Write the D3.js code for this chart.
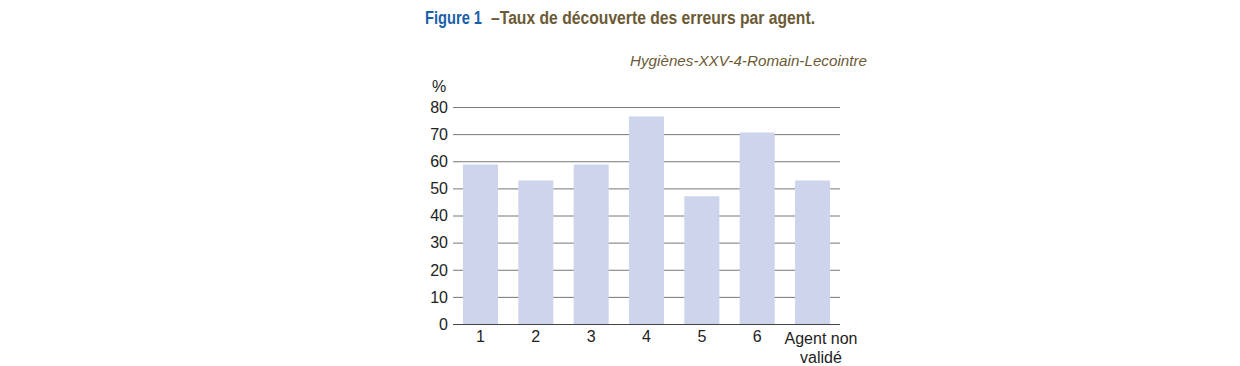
<!DOCTYPE html>
<html>
<head>
<meta charset="utf-8">
<script src="https://cdn.jsdelivr.net/npm/d3@7"></script>
<style>
  body { margin: 0; background: #fff; }
  svg { display: block; }
</style>
</head>
<body>
<div id="chart"></div>
<script>
// data
var categories = ["1", "2", "3", "4", "5", "6", "Agent non|validé"];
var values = [58.8, 52.9, 58.8, 76.5, 47.1, 70.6, 52.9];
var yTicks = [0, 10, 20, 30, 40, 50, 60, 70, 80];

var svgWidth = 1240;
var svgHeight = 366;

var svg = d3.select("#chart")
  .append("svg")
  .attr("width", svgWidth)
  .attr("height", svgHeight);

var x = d3.scaleBand()
  .domain(categories)
  .range([453, 840])
  .paddingInner(0.367)
  .paddingOuter(0.18);

var y = d3.scaleLinear()
  .domain([0, 80])
  .range([324, 107]);

// title, two pieces squeezed to look condensed
svg.append("text")
  .attr("x", 425)
  .attr("y", 23.5)
  .attr("font-family", "'Liberation Sans', Arial, sans-serif")
  .attr("font-weight", "bold")
  .attr("font-size", "18px")
  .attr("fill", "#1b5faa")
  .attr("textLength", 57)
  .attr("lengthAdjust", "spacingAndGlyphs")
  .text("Figure 1");

svg.append("text")
  .attr("x", 491)
  .attr("y", 23.5)
  .attr("font-family", "'Liberation Sans', Arial, sans-serif")
  .attr("font-weight", "bold")
  .attr("font-size", "18px")
  .attr("fill", "#6b5a35")
  .attr("textLength", 324)
  .attr("lengthAdjust", "spacingAndGlyphs")
  .text("–Taux de découverte des erreurs par agent.");

svg.append("text")
  .attr("x", 867)
  .attr("y", 66)
  .attr("text-anchor", "end")
  .attr("font-family", "'Liberation Sans', Arial, sans-serif")
  .attr("font-style", "italic")
  .attr("font-size", "15px")
  .attr("fill", "#6b5a35")
  .attr("textLength", 237)
  .attr("lengthAdjust", "spacingAndGlyphs")
  .text("Hygiènes-XXV-4-Romain-Lecointre");

// gridlines
svg.append("g").selectAll("line")
  .data(yTicks)
  .enter()
  .append("line")
  .attr("x1", 453)
  .attr("x2", 840)
  .attr("y1", d => y(d) + 0.5)
  .attr("y2", d => y(d) + 0.5)
  .attr("stroke", d => d === 0 ? "#444" : "#777")
  .attr("stroke-width", 1);

// y tick labels
svg.append("g").selectAll("text")
  .data(yTicks)
  .enter()
  .append("text")
  .attr("x", 448)
  .attr("y", d => y(d))
  .attr("dy", "0.36em")
  .attr("text-anchor", "end")
  .attr("font-family", "'Liberation Sans', Arial, sans-serif")
  .attr("font-size", "16px")
  .attr("fill", "#222")
  .text(d => d);

svg.append("text")
  .attr("x", 439)
  .attr("y", 92)
  .attr("text-anchor", "middle")
  .attr("font-family", "'Liberation Sans', Arial, sans-serif")
  .attr("font-size", "16px")
  .attr("fill", "#222")
  .text("%");

// bars
svg.append("g").selectAll("rect")
  .data(values)
  .enter()
  .append("rect")
  .attr("x", (d, i) => x(categories[i]))
  .attr("y", d => y(d))
  .attr("width", x.bandwidth())
  .attr("height", d => y(0) - y(d))
  .attr("fill", "#cdd4ec");

// x labels (two-line label sits a little lower and to the right)
var xl = svg.append("g").selectAll("text")
  .data(categories)
  .enter()
  .append("text")
  .attr("y", d => d.indexOf("|") >= 0 ? 344 : 341.5)
  .attr("text-anchor", "middle")
  .attr("font-family", "'Liberation Sans', Arial, sans-serif")
  .attr("font-size", "16px")
  .attr("fill", "#222");

xl.each(function(d) {
  var parts = d.split("|");
  var t = d3.select(this);
  var cx = x(d) + x.bandwidth() / 2 + (parts.length > 1 ? 8.5 : 0);
  parts.forEach(function(p, i) {
    t.append("tspan")
      .attr("x", cx)
      .attr("dy", i === 0 ? 0 : 19)
      .text(p);
  });
});
</script>
</body>
</html>
